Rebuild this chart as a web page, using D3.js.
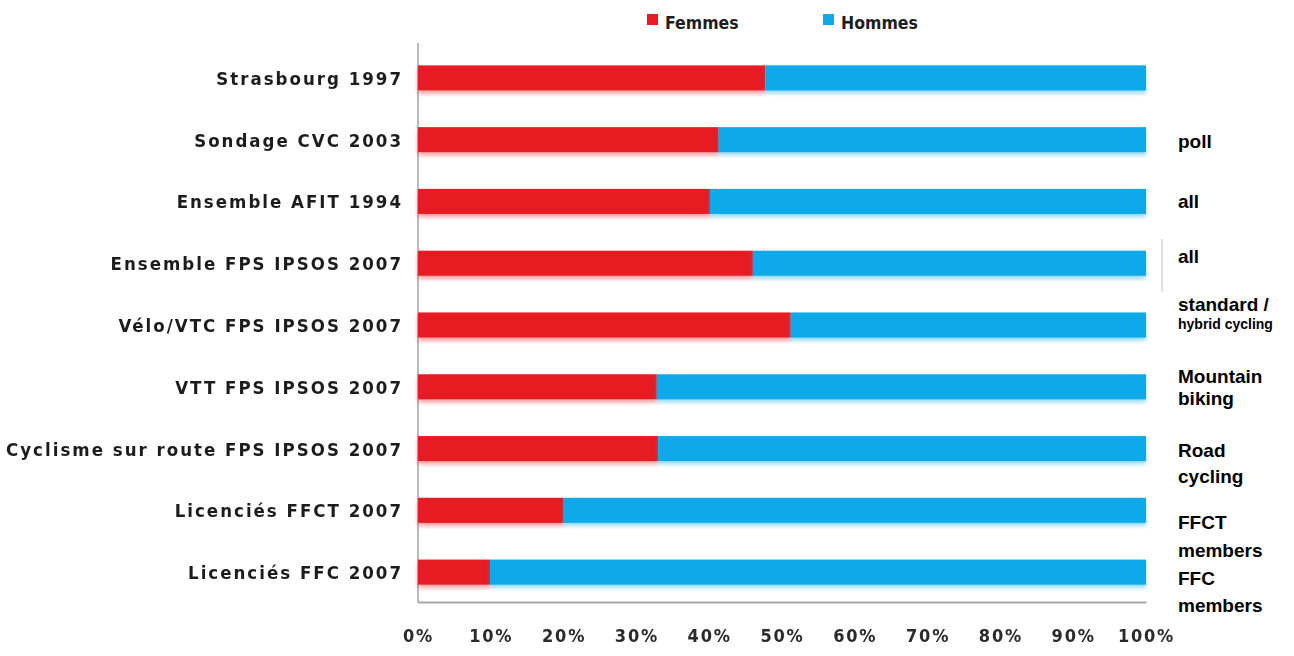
<!DOCTYPE html>
<html><head><meta charset="utf-8">
<script src="https://cdn.jsdelivr.net/npm/d3@7/dist/d3.min.js"></script>
<style>
html,body{margin:0;padding:0;background:#fff;}
svg{display:block;}
</style>
</head><body>
<svg id="chart" width="1294" height="656"></svg>
<script>
// ---- data ----
const categories = [
  "Strasbourg 1997",
  "Sondage CVC 2003",
  "Ensemble AFIT 1994",
  "Ensemble FPS IPSOS 2007",
  "Vélo/VTC FPS IPSOS 2007",
  "VTT FPS IPSOS 2007",
  "Cyclisme sur route FPS IPSOS 2007",
  "Licenciés FFCT 2007",
  "Licenciés FFC 2007"
];
const femmes = [47.7, 41.3, 40.1, 46.0, 51.2, 32.8, 33.0, 20.0, 9.9];
const hommes = femmes.map(v => 100 - v);
const seriesNames = ["Femmes", "Hommes"];
const tickValues = [0, 10, 20, 30, 40, 50, 60, 70, 80, 90, 100];
const annotations = [
  [],
  ["poll"],
  ["all"],
  ["all"],
  ["standard /", "hybrid cycling"],
  ["Mountain", "biking"],
  ["Road", "cycling"],
  ["FFCT", "members"],
  ["FFC", "members"]
];

// ---- layout ----
const colors = ["#e61b23", "#0aa9e8"];
const x = d3.scaleLinear().domain([0, 100]).range([418, 1146]);
const y = d3.scaleBand().domain(categories).range([47, 603]).paddingInner(0.595).paddingOuter(0.2975);
const annoFirstDy = [0, 8, 7, 0, -14, -4, 8, 19, 13];
const annoLineH = [0, 0, 0, 0, 18, 22, 26, 28, 27];

const svg = d3.select("#chart");
const defs = svg.append("defs");
const f = defs.append("filter").attr("id", "shadow").attr("x", "-5%").attr("y", "-50%").attr("width", "110%").attr("height", "220%");
f.append("feGaussianBlur").attr("in", "SourceGraphic").attr("stdDeviation", 2.2).attr("result", "b");
f.append("feOffset").attr("in", "b").attr("dy", 3).attr("result", "o");
f.append("feComponentTransfer").attr("in", "o").attr("result", "t")
  .append("feFuncA").attr("type", "linear").attr("slope", 0.45);
const m = f.append("feMerge");
m.append("feMergeNode").attr("in", "t");
m.append("feMergeNode").attr("in", "SourceGraphic");
const soft = defs.append("filter").attr("id", "soft");
soft.append("feGaussianBlur").attr("stdDeviation", 0.6);

const stack = d3.stack().keys([0, 1]).value((d, k) => k === 0 ? d.f : d.h);
const rows = categories.map((c, i) => ({c, f: femmes[i], h: hommes[i]}));
const stacked = stack(rows);

const labelFont = "'DejaVu Sans Condensed', 'DejaVu Sans', sans-serif";

// left axis line
const yAxisG = svg.append("g").attr("transform", `translate(${x(0)},0)`)
  .call(d3.axisLeft(y).tickSize(0).tickFormat(""));
yAxisG.select(".domain").attr("stroke", "#8a8a8a").attr("stroke-width", 1.2)
  .attr("d", `M0,43V603`);

// bars
const g = svg.append("g");
stacked.forEach((s, k) => {
  g.append("g").attr("fill", colors[k]).attr("filter", "url(#shadow)")
    .selectAll("rect").data(s).join("rect")
    .attr("x", d => x(d[0]))
    .attr("width", d => x(d[1]) - x(d[0]))
    .attr("y", d => y(d.data.c))
    .attr("height", y.bandwidth());
});

// x axis
const xAxisG = svg.append("g").attr("transform", `translate(0,${y.range()[1] - 1})`)
  .call(d3.axisBottom(x).tickValues(tickValues).tickSize(0).tickFormat(d => d + "%"));
xAxisG.select(".domain").attr("stroke", "#a8a8a8").attr("stroke-width", 2);
xAxisG.selectAll("text")
  .attr("y", 40).attr("dy", 0)
  .attr("font-family", labelFont)
  .attr("font-weight", "bold").attr("font-size", 18).attr("letter-spacing", 1.8)
  .attr("fill", "#2a2a2a").attr("filter", "url(#soft)");

// category labels
svg.append("g").selectAll("text").data(categories).join("text")
  .attr("x", x(0) - 15)
  .attr("y", d => y(d) + y.bandwidth() / 2 + 7)
  .attr("text-anchor", "end")
  .attr("font-family", labelFont)
  .attr("font-weight", "bold").attr("font-size", 18.5).attr("letter-spacing", 2)
  .attr("fill", "#1e1e1e").attr("filter", "url(#soft)")
  .text(d => d);

// right annotations
const ag = svg.append("g").attr("font-family", "'Liberation Sans', Arial, sans-serif")
  .attr("font-weight", "bold").attr("fill", "#000");
annotations.forEach((lines, i) => {
  lines.forEach((t, j) => {
    const small = (i === 4 && j === 1);
    ag.append("text")
      .attr("x", x(100) + 32)
      .attr("y", y(categories[i]) + y.bandwidth() / 2 + annoFirstDy[i] + j * annoLineH[i])
      .attr("font-size", small ? 14 : 19)
      .text(t);
  });
});
// stray separator mark
svg.append("line").attr("x1", x(100) + 16).attr("x2", x(100) + 16)
  .attr("y1", y(categories[3]) - 12).attr("y2", y(categories[3]) + y.bandwidth() + 16)
  .attr("stroke", "#c8c8c8").attr("stroke-width", 1.2);

// legend
const lg = svg.append("g").attr("transform", "translate(647,14)");
seriesNames.forEach((n, i) => {
  const it = lg.append("g").attr("transform", `translate(${i * 176},0)`);
  it.append("rect").attr("width", 11).attr("height", 11).attr("fill", colors[i]).attr("filter", "url(#soft)");
  it.append("text").attr("x", 18).attr("y", 15)
    .attr("font-family", labelFont)
    .attr("font-weight", "bold").attr("font-size", 17.5)
    .attr("fill", "#1e1e1e").text(n);
});
</script>
</body></html>
